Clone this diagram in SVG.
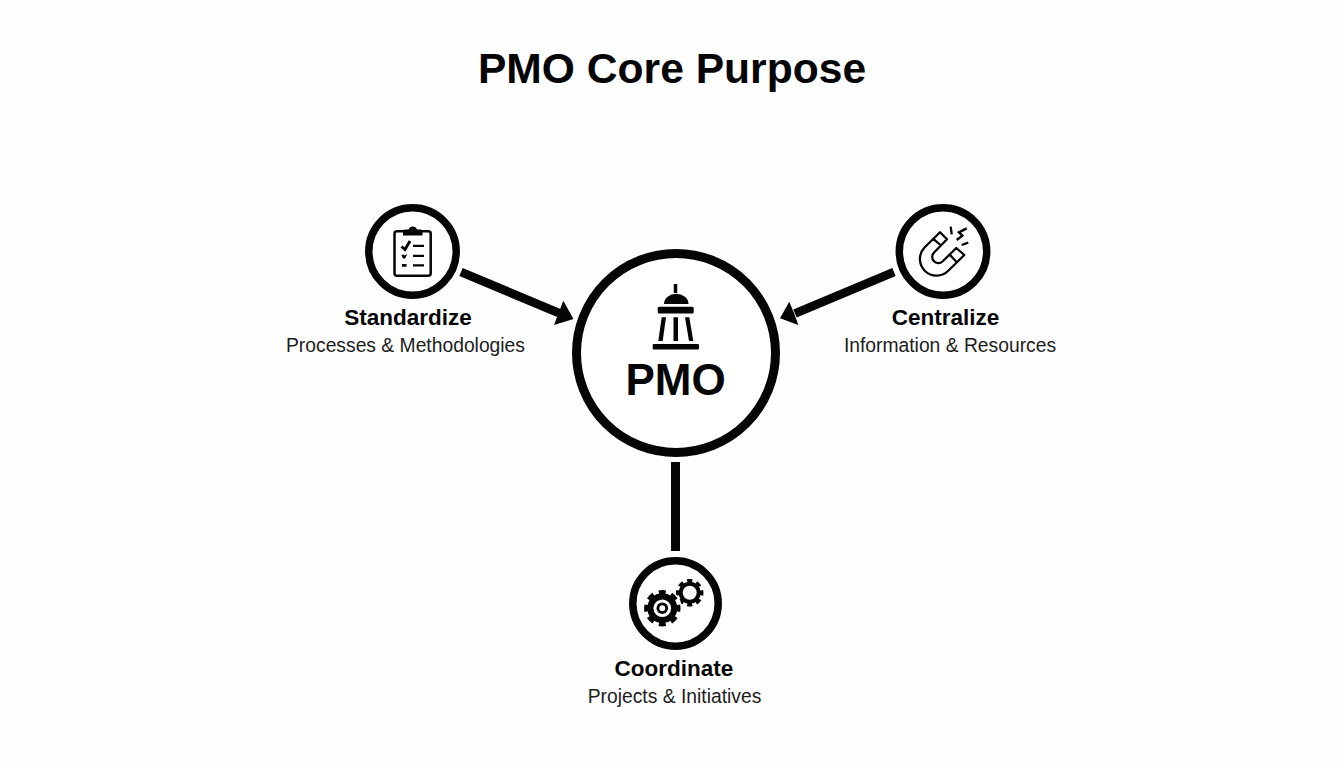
<svg xmlns="http://www.w3.org/2000/svg" width="1344" height="768" viewBox="0 0 1344 768">
<style>
text{font-family:"Liberation Sans",Arial,sans-serif;fill:#050505;text-anchor:middle}
.t{font-size:42.600px;font-weight:700}
.h{font-size:22.500px;font-weight:700}
.s{font-size:19.300px;fill:#1c1c1c}
.ring{fill:#fff;stroke:#050505;stroke-width:7.500}
.ln{fill:none;stroke:#050505;stroke-linecap:butt}
.k{fill:#050505}
.w{fill:#fff}
</style>
<rect width="1344" height="768" fill="#fefefe"/>
<text class="t" x="672" y="83">PMO Core Purpose</text>
<g id="connectors">
<path class="ln" stroke-width="8.800" d="M461 272 L560 313.500"/>
<path class="k" d="M573.500 319 L554 325 L559 312 L563.300 300.700Z"/>
<path class="ln" stroke-width="8.800" d="M894 272 L795 313.500"/>
<path class="k" d="M780 318.300 L789.300 301.700 L794 313 L798.300 325Z"/>
<path class="ln" stroke-width="9" d="M675.500 462 V551"/>
</g>
<g id="pmo">
<circle cx="676" cy="353" r="99.500" fill="#fff" stroke="#050505" stroke-width="9"/>
<path class="ln" stroke-width="3.500" d="M675.500 284 V293"/>
<path class="k" d="M664 304 A12 10 0 0 1 688.500 304 Z"/>
<rect class="k" x="657.700" y="306.700" width="36" height="6.800" rx="1.500"/>
<path class="k" d="M661.700 317.300 H666 L662.700 341 H658.300 Z M673.500 317.300 H678 V341 H673.500 Z M685 317.300 H689.300 L693.300 341 H689 Z"/>
<rect class="k" x="652.700" y="344" width="46.300" height="5.500" rx="1"/>
<text x="675.500" y="395" style="font-size:44px;font-weight:700">PMO</text>
</g>
<g id="standardize">
<circle class="ring" cx="412.500" cy="251.500" r="43.700"/>
<rect x="394.500" y="231.200" width="36.200" height="44.500" rx="2.500" fill="none" stroke="#050505" stroke-width="2.500"/>
<path class="k" d="M403 235.500 V231 Q403 229.500 405 229.500 H408.500 A4.500 4.500 0 0 1 417 229.500 H420.500 Q422.500 229.500 422.500 231 V235.500 Z"/>
<path class="ln" stroke-width="2.800" d="M401.500 246.500 L405 249.500 L410 241"/>
<path class="ln" stroke-width="2.300" d="M413 245.800 H424 M413 255.800 H424 M413 265.300 H424"/>
<path class="k" d="M401.500 255 L403.500 254.500 L404.500 255.500 L407.500 254 L405 258.500 H403 Z M402 264 H406.500 V266.800 H402 Z"/>
<text class="h" x="408" y="325">Standardize</text>
<text class="s" x="405.500" y="351.500">Processes &amp; Methodologies</text>
</g>
<g id="centralize">
<circle class="ring" cx="943" cy="251.500" r="43.700"/>
<path class="ln" stroke-width="2.300" stroke-linejoin="round" d="M940 232.300 L947 239.300 L934.300 252.300 A5.800 5.800 0 0 0 942.500 261.500 L956.300 248 L964.300 255 L948.500 270.500 A16 16 0 0 1 924.500 247.500 Z M933.300 238.800 L941 245.500 M950 255 L957 262.500"/>
<path class="ln" stroke-width="2.300" d="M950.700 226.700 L951.700 234.300 M968.300 242.700 L961.700 245"/>
<path class="ln" stroke-width="2.500" d="M966.700 228.300 L959 232.300 L962.300 235.700 L956.700 240"/>
<text class="h" x="945.500" y="325">Centralize</text>
<text class="s" x="950" y="351.500">Information &amp; Resources</text>
</g>
<g id="coordinate">
<circle class="ring" cx="675.500" cy="603.500" r="42.700"/>
<circle class="k" cx="689.700" cy="592.800" r="11"/>
<circle cx="689.700" cy="592.800" r="12" fill="none" stroke="#050505" stroke-width="3.600" pathLength="80" stroke-dasharray="5.500 4.500" stroke-dashoffset="2.750"/>
<circle class="w" cx="689.700" cy="592.800" r="7"/>
<circle class="w" cx="662.300" cy="608.200" r="19.500"/>
<circle class="k" cx="662.300" cy="608.200" r="15"/>
<circle cx="662.300" cy="608.200" r="16" fill="none" stroke="#050505" stroke-width="4.400" pathLength="80" stroke-dasharray="5.500 4.500" stroke-dashoffset="2.750"/>
<circle class="w" cx="662.300" cy="608.200" r="8.800"/>
<circle class="k" cx="662.300" cy="608.200" r="5.800"/>
<circle class="w" cx="662.300" cy="608.200" r="2.900"/>
<text class="h" x="674" y="676">Coordinate</text>
<text class="s" x="674.500" y="702.500">Projects &amp; Initiatives</text>
</g>
</svg>
